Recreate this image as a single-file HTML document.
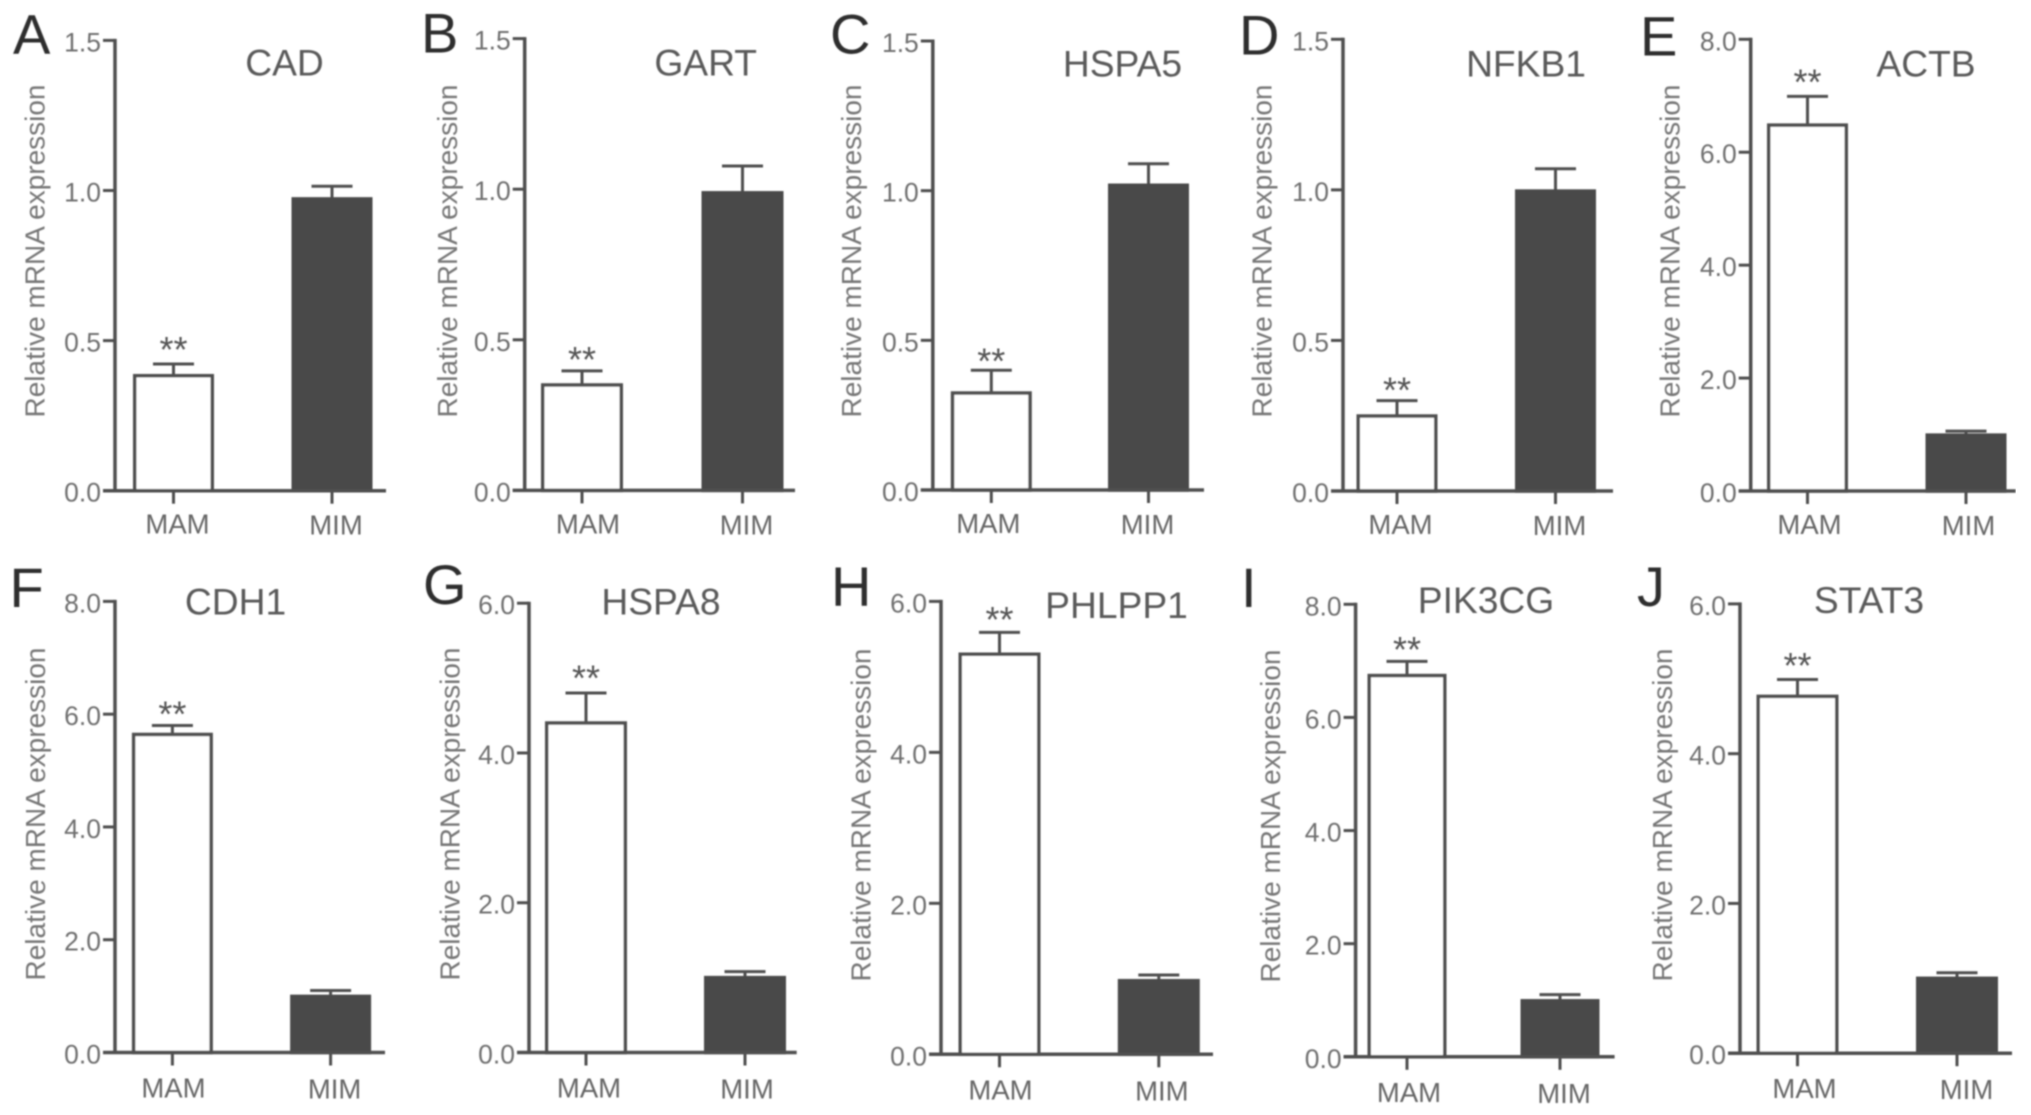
<!DOCTYPE html>
<html lang="en">
<head>
<meta charset="utf-8">
<title>Relative mRNA expression, MAM versus MIM</title>
<style>
  html, body { margin: 0; padding: 0; background: #fff; }
  body { width: 2031px; height: 1115px; overflow: hidden; }
  svg { display: block; }
  text { font-family: "Liberation Sans", Arial, sans-serif; }
</style>
</head>
<body>
<svg id="figure" xmlns="http://www.w3.org/2000/svg" width="2031" height="1115" viewBox="0 0 2031 1115">
  <defs>
    <filter id="soft" x="0" y="0" width="100%" height="100%"><feGaussianBlur stdDeviation="0.7"/></filter>
  </defs>
  <rect width="2031" height="1115" fill="#ffffff"/>
  <g id="root" filter="url(#soft)"></g>
</svg>
<script>
// ---- chart data ----
const panelLetters = ['A', 'B', 'C', 'D', 'E', 'F', 'G', 'H', 'I', 'J'];
const geneNames = ['CAD', 'GART', 'HSPA5', 'NFKB1', 'ACTB', 'CDH1', 'HSPA8', 'PHLPP1', 'PIK3CG', 'STAT3'];
const categories = ['MAM', 'MIM'];
const mamValues = [0.383, 0.350, 0.324, 0.249, 6.48, 5.64, 4.40, 5.30, 6.74, 4.765];
const mamErrorTops = [0.422, 0.397, 0.400, 0.300, 6.99, 5.80, 4.80, 5.59, 6.99, 4.99];
const mimValues = [0.972, 0.988, 1.018, 0.996, 0.99, 0.995, 1.00, 0.975, 0.99, 1.00];
const mimErrorTops = [1.014, 1.077, 1.090, 1.070, 1.06, 1.10, 1.08, 1.05, 1.10, 1.075];
const ticksLow = ['0.0', '0.5', '1.0', '1.5'];
const ticksEight = ['0.0', '2.0', '4.0', '6.0', '8.0'];
const ticksSix = ['0.0', '2.0', '4.0', '6.0'];
const panelTicks = [ticksLow, ticksLow, ticksLow, ticksLow, ticksEight, ticksEight, ticksSix, ticksSix, ticksEight, ticksSix];
const yAxisLabel = 'Relative mRNA expression';
const significanceMark = '**';

// ---- panel frames (page layout only, no data) ----
const frames = [
  {ax:115,   top:40.4,  base:490.7,  xr:386,  c0:173.5,  c1:332,    bw:81,   lx:13,   ly:53.6,  tx:284.5, ty:75.7,  yl:44.5,  ylc:251, dx0:4,  dx1:4, sg:22, lb:43},
  {ax:524.7, top:38.6,  base:490.4,  xr:795,  c0:582,    c1:742.5,  bw:82,   lx:421,  ly:52.5,  tx:705.7, ty:75.7,  yl:457,   ylc:251, dx0:6,  dx1:4, sg:19, lb:43},
  {ax:932.8, top:41,    base:490,    xr:1204, c0:991.3,  c1:1148.5, bw:81,   lx:830,  ly:53.6,  tx:1122.5,ty:76.4,  yl:861,   ylc:251, dx0:-3, dx1:-1,sg:17, lb:43},
  {ax:1343,  top:39.3,  base:491,    xr:1613, c0:1397,   c1:1555.5, bw:81,   lx:1239, ly:54.3,  tx:1526,  ty:76.4,  yl:1271.6,ylc:251, dx0:3.5,dx1:4, sg:18, lb:43},
  {ax:1750.7,top:39.3,  base:491,    xr:2015.6,c0:1807.5,c1:1966,   bw:81,   lx:1640, ly:55.4,  tx:1934,  ty:76.4,  yl:1679.5,ylc:251, dx0:2,  dx1:2.5,sg:22, lb:43},
  {ax:115,   top:601.4, base:1052.5, xr:385,  c0:172.4,  c1:330.6,  bw:81,   lx:9.5,  ly:606.8, tx:235.5, ty:614.6, yl:45,    ylc:814, dx0:1,  dx1:4, sg:19, lb:45},
  {ax:529,   top:603.2, base:1052.5, xr:796.7,c0:586,    c1:745,    bw:82,   lx:423,  ly:604,   tx:661,   ty:614.6, yl:459.7, ylc:814, dx0:3,  dx1:2, sg:22.5,lb:45},
  {ax:941,   top:601.4, base:1054.3, xr:1213, c0:999.5,  c1:1158.8, bw:82,   lx:831,  ly:606,   tx:1116.5,ty:617.9, yl:870.5, ylc:815, dx0:1,  dx1:3, sg:20.5,lb:45},
  {ax:1355.6,top:604.3, base:1056.8, xr:1614.6,c0:1407,  c1:1560,   bw:79,   lx:1241, ly:606.8, tx:1486,  ty:613.2, yl:1280,  ylc:816, dx0:2,  dx1:4, sg:19.5,lb:45},
  {ax:1740,  top:603.9, base:1053.2, xr:2012, c0:1797.5, c1:1957,   bw:82,   lx:1637, ly:606,   tx:1877,  ty:613.2, yl:1671.8,ylc:815, dx0:7,  dx1:9.5,sg:21.5,lb:45}
];

const NS = 'http://www.w3.org/2000/svg';
const root = document.getElementById('root');
const INK = '#505050';
const DARK = '#4a4a4a';
const SW = 3.5;
const titleShift = [0, 0, 0, 0, -8, 0, 0, 0, 0, -8];

function make(tag, parent, props, content) {
  const el = document.createElementNS(NS, tag);
  for (const k in props) el.setAttribute(k, props[k]);
  if (content !== undefined) el.textContent = content;
  parent.appendChild(el);
  return el;
}

function yScaleFor(frame, ticks) {
  const maxValue = parseFloat(ticks[ticks.length - 1]);
  return v => frame.base - (v / maxValue) * (frame.base - frame.top);
}

function xScaleFor(frame) {
  return i => (i === 0 ? frame.c0 : frame.c1);
}

panelLetters.forEach((letter, p) => {
  const f = frames[p];
  const ticks = panelTicks[p];
  const y = yScaleFor(f, ticks);
  const x = xScaleFor(f);
  const slug = geneNames[p].toLowerCase();

  const g = make('g', root, {});
  
  

  const letterEl = make('text', g, {x: f.lx, y: f.ly, 'font-size': 56, fill: '#2e2e2e'}, letter);
  
  

  const titleEl = make('text', g, {x: f.tx + titleShift[p], y: f.ty, 'font-size': 37.2, fill: '#5a5a5a', 'text-anchor': 'middle'}, geneNames[p]);
  
  

  const yTitle = make('text', g, {
    x: 0, y: 0, 'font-size': 28, fill: '#777777', 'text-anchor': 'middle',
    transform: 'translate(' + f.yl + ' ' + f.ylc + ') rotate(-90)'
  }, yAxisLabel);
  
  

  // bars with error whiskers
  const values = [mamValues[p], mimValues[p]];
  const errTops = [mamErrorTops[p], mimErrorTops[p]];
  categories.forEach((cat, i) => {
    const cx = x(i);
    const catSlug = cat.toLowerCase();
    const capHalf = 20.5;

    const stem = make('line', g, {x1: cx, x2: cx, y1: y(values[i]), y2: y(errTops[i]), stroke: INK, 'stroke-width': 3});
    
    

    const cap = make('line', g, {x1: cx - capHalf, x2: cx + capHalf, y1: y(errTops[i]), y2: y(errTops[i]), stroke: INK, 'stroke-width': 3});
    
    

    const inner = f.bw - SW;
    const bar = make('rect', g, {
      x: cx - inner / 2, y: y(values[i]), width: inner, height: f.base - y(values[i]),
      fill: i === 0 ? '#ffffff' : DARK,
      stroke: i === 0 ? INK : DARK,
      'stroke-width': SW
    });
    
    

    const tick = make('line', g, {x1: cx, x2: cx, y1: f.base, y2: f.base + 13, stroke: INK, 'stroke-width': 3});
    
    

    const xLabel = make('text', g, {
      x: cx + (i === 0 ? f.dx0 : f.dx1), y: f.base + f.lb + (i === 0 ? 0 : 1),
      'font-size': 27.5, fill: '#666666', 'text-anchor': 'middle'
    }, cat);
    
    
  });

  // significance mark above the MAM whisker
  const stars = make('text', g, {
    x: x(0), y: y(mamErrorTops[p]) - f.sg + 20,
    'font-size': 36, fill: '#555555', 'text-anchor': 'middle'
  }, significanceMark);
  
  

  // axes
  const yAxis = make('line', g, {x1: f.ax, x2: f.ax, y1: f.top - 1.5, y2: f.base, stroke: INK, 'stroke-width': SW});
  
  

  const xAxis = make('line', g, {x1: f.ax - 12, x2: f.xr, y1: f.base, y2: f.base, stroke: INK, 'stroke-width': SW});
  
  

  ticks.forEach(label => {
    const ty = y(parseFloat(label));
    const tick = make('line', g, {x1: f.ax - 12, x2: f.ax, y1: ty, y2: ty, stroke: INK, 'stroke-width': 3});
    
    

    const tl = make('text', g, {x: f.ax - 14, y: ty + 11, 'font-size': 26.5, fill: '#707070', 'text-anchor': 'end'}, label);
    
    
  });
});
</script>
</body>
</html>
